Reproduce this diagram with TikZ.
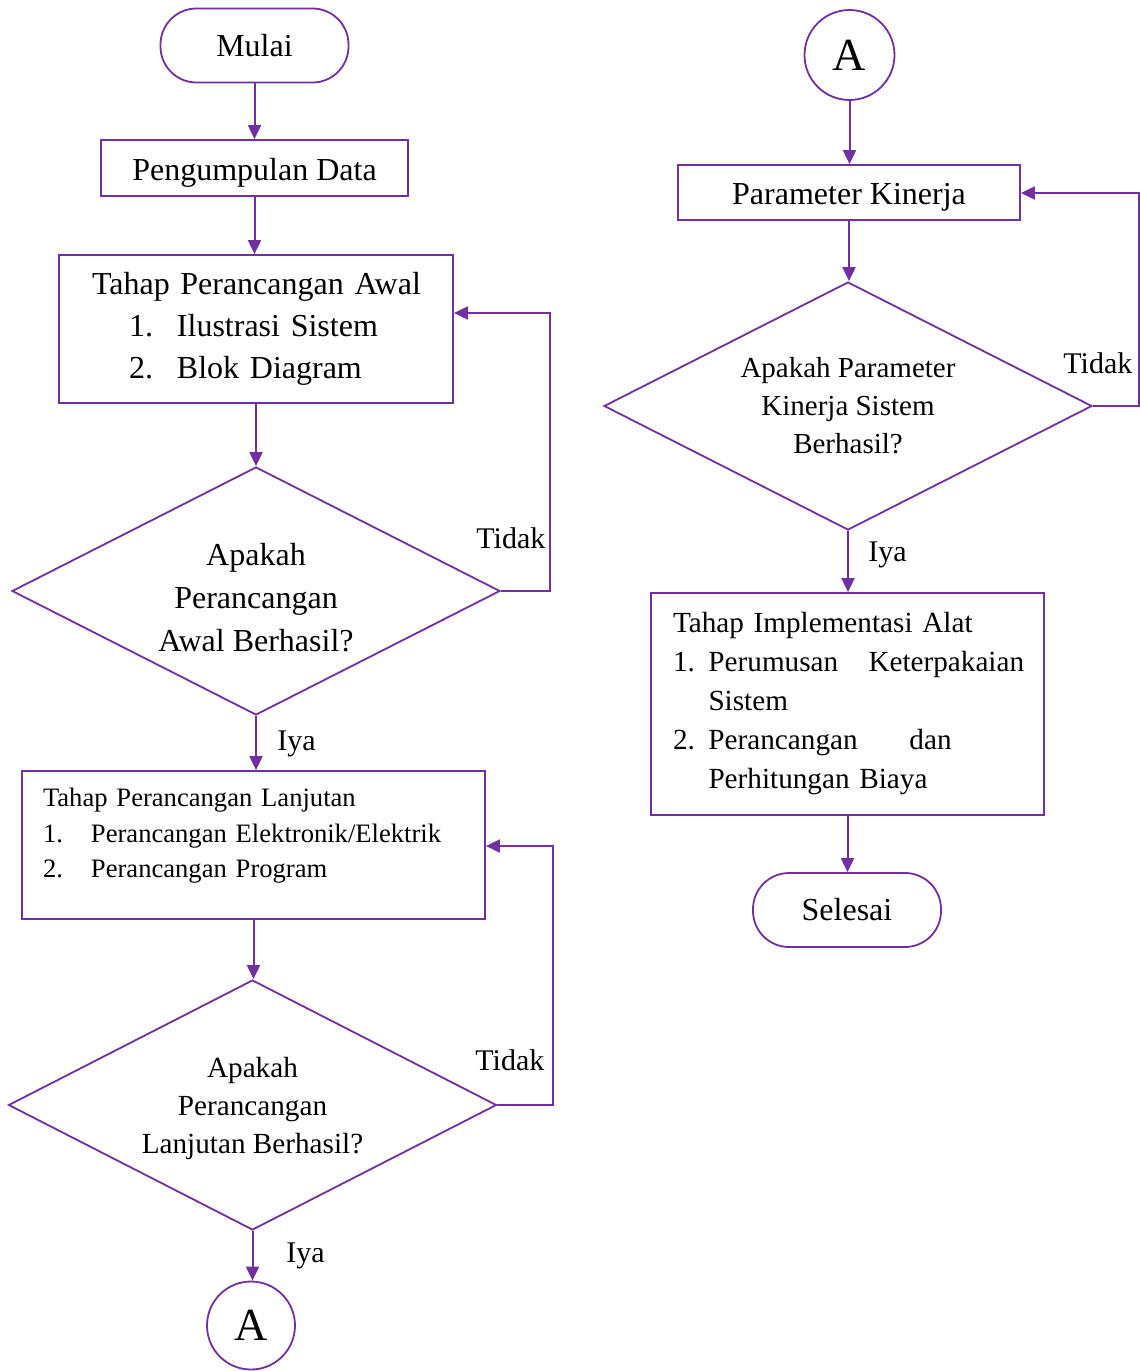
\documentclass[tikz,border=0pt]{standalone}
\usepackage{fontspec}
\setmainfont{Liberation Serif}
\usetikzlibrary{arrows.meta,shapes.geometric,calc}
\definecolor{ungu}{RGB}{112,48,160}
\tikzset{prosesbox/.style={draw=ungu,line width=0.9pt,fill=white,inner sep=0pt,
 font=\fontsize{16}{21}\selectfont,minimum height=28pt},
 terminal/.style={prosesbox,rounded corners=18pt,minimum width=94pt,minimum height=37pt},
 konektor/.style={circle,draw=ungu,line width=0.9pt,fill=white,inner sep=0pt,
 minimum size=44pt,font=\fontsize{23}{23}\selectfont},
 keputusan/.style={diamond,draw=ungu,line width=0.9pt,fill=white,inner sep=0pt,
 shape aspect=2,align=center,minimum width=244pt,minimum height=124pt},
 panah/.style={-{Triangle[length=7pt,width=6.5pt]},draw=ungu,line width=1pt},
 ket/.style={anchor=base west,inner sep=0pt,font=\fontsize{15}{18}\selectfont}}

\begin{document}
\begin{tikzpicture}[x=0.5pt,y=-0.5pt]
\useasboundingbox (0,0) rectangle (1140,1371);
% kolom kiri
\node[terminal] (mulai) at (254.5,45.5) {Mulai};
\node[prosesbox,minimum width=153.5pt,text height=12pt,text depth=0pt] (data) at (254.5,168) {Pengumpulan Data};
\node[prosesbox,minimum width=197pt,minimum height=74pt,text width=164pt,inner xsep=16.5pt,align=left] (awal) at (256,329)
 {\mbox{Tahap Perancangan Awal}\\
 \hspace*{18.5pt}\makebox[24pt][l]{1.}Ilustrasi Sistem\\
 \hspace*{18.5pt}\makebox[24pt][l]{2.}Blok Diagram};
\node[keputusan,font=\fontsize{16}{21.5}\selectfont,text height=60pt,text depth=0pt] (cekawal) at (256,591) {Apakah\\Perancangan\\Awal Berhasil?};
\node[prosesbox,minimum width=231.5pt,minimum height=74pt,text width=210.5pt,inner xsep=10.5pt,align=left,
 font=\fontsize{13.3}{17.75}\selectfont] (lanjut) at (253.5,845)
 {Tahap Perancangan Lanjutan\\
 \makebox[24pt][l]{1.}Perancangan Elektronik/Elektrik\\
 \makebox[24pt][l]{2.}Perancangan Program\\[-6pt]\mbox{}};
\node[keputusan,font=\fontsize{14.6}{19}\selectfont,minimum height=125pt,text depth=0pt] (ceklanjut) at (252.5,1105) {Apakah\\Perancangan\\Lanjutan Berhasil?};
\node[konektor] (a1) at (251,1325.5) {A};
% kolom kanan
\node[konektor,minimum size=45pt] (a2) at (849.5,55) {A};
\node[prosesbox,minimum width=171pt,minimum height=27.5pt,text height=12pt,text depth=0pt] (param) at (849,192.5) {Parameter Kinerja};
\node[keputusan,font=\fontsize{14.5}{19}\selectfont] (cekparam) at (848,406) {Apakah Parameter\\Kinerja Sistem\\Berhasil?};
\node[prosesbox,minimum width=196.5pt,minimum height=111pt,text width=174.5pt,inner xsep=11pt,align=left,
 font=\fontsize{14.6}{19.5}\selectfont] (impl) at (847.5,704)
 {Tahap Implementasi Alat\\
 \makebox[17.75pt][l]{1.}\makebox[80pt][l]{Perumusan}Keterpakaian\\
 \hspace*{17.75pt}Sistem\\
 \makebox[17.75pt][l]{2.}\makebox[100.5pt][l]{Perancangan}dan\\
 \hspace*{17.75pt}Perhitungan Biaya};
\node[terminal] (selesai) at (847,910) {Selesai};
% alur utama
\draw[panah] (mulai.south) -- (mulai.south |- data.north);
\draw[panah] (data.south) -- (data.south |- awal.north);
\draw[panah] (awal.south) -- (awal.south |- cekawal.north);
\draw[panah] (cekawal.south) -- (cekawal.south |- lanjut.north);
\draw[panah] (lanjut.south) -- (lanjut.south |- ceklanjut.north);
\draw[panah] (ceklanjut.south) -- (ceklanjut.south |- a1.north);
\draw[panah] (a2.south) -- (a2.south |- param.north);
\draw[panah] (param.south) -- (param.south |- cekparam.north);
\draw[panah] (cekparam.south) -- (cekparam.south |- impl.north);
\draw[panah] (impl.south) -- (impl.south |- selesai.north);
% alur kembali
\coordinate (balik1) at (550,313);
\coordinate (balik2) at (553,846);
\coordinate (balik3) at (1139,193);
\draw[panah] (cekawal.east) -| (balik1) -- (balik1 -| awal.east);
\draw[panah] (ceklanjut.east) -| (balik2) -- (balik2 -| lanjut.east);
\draw[panah] (cekparam.east) -| (balik3) -- (balik3 -| param.east);
% keterangan
\node[ket] (tidak1) at (476,548) {Tidak};
\node[ket] (iya1) at (277,750) {Iya};
\node[ket] (tidak2) at (475,1070) {Tidak};
\node[ket] (iya2) at (286,1262) {Iya};
\node[ket] (tidak3) at (1063,373) {Tidak};
\node[ket] (iya3) at (868,561) {Iya};
\end{tikzpicture}
\end{document}
